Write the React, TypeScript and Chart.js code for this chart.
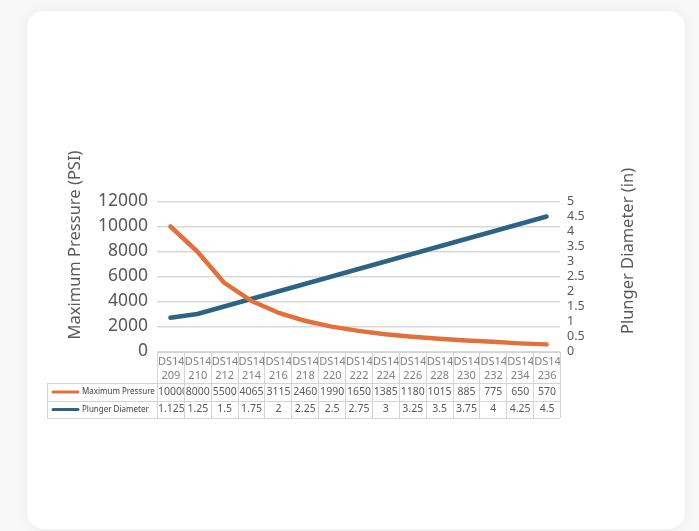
import React, { useEffect, useRef } from "react";
import { Chart, registerables } from "chart.js";

Chart.register(...registerables);

const categories = [
  "DS14 209", "DS14 210", "DS14 212", "DS14 214", "DS14 216", "DS14 218", "DS14 220", "DS14 222",
  "DS14 224", "DS14 226", "DS14 228", "DS14 230", "DS14 232", "DS14 234", "DS14 236",
];
const maxPressure = [10000, 8000, 5500, 4065, 3115, 2460, 1990, 1650, 1385, 1180, 1015, 885, 775, 650, 570];
const plungerDiameter = [1.125, 1.25, 1.5, 1.75, 2, 2.25, 2.5, 2.75, 3, 3.25, 3.5, 3.75, 4, 4.25, 4.5];
const seriesNames = ["Maximum Pressure", "Plunger Diameter"];
const seriesColors = ["#E2703B", "#2C6584"];
const leftAxisTitle = "Maximum Pressure (PSI)";
const rightAxisTitle = "Plunger Diameter (in)";

const FONT = "'Noto Sans', sans-serif";

const tablePlugin = {
  id: "dataTable",
  afterDraw(chart: any) {
    const ctx = chart.ctx as CanvasRenderingContext2D;
    const area = chart.chartArea;
    const xs = chart.scales.x;
    const n = categories.length;
    const left = area.left;
    const right = area.right;
    const w = (right - left) / n;
    const headerTop = 352;
    const row1Top = 383;
    const row2Top = 401;
    const bottom = 418;
    const legendLeft = 47;

    ctx.save();
    ctx.fillStyle = "#595959";
    ctx.textAlign = "center";
    ctx.textBaseline = "middle";
    ctx.font = `16.5px ${FONT}`;
    ctx.save();
    ctx.translate(75, 245);
    ctx.rotate(-Math.PI / 2);
    ctx.fillText(leftAxisTitle, 0, 0);
    ctx.restore();
    ctx.save();
    ctx.translate(628, 251);
    ctx.rotate(-Math.PI / 2);
    ctx.fillText(rightAxisTitle, 0, 0);
    ctx.restore();

    ctx.strokeStyle = "#d4d4d4";
    ctx.lineWidth = 1;
    const hl = (x1: number, x2: number, y: number) => {
      ctx.beginPath();
      ctx.moveTo(x1, Math.round(y) + 0.5);
      ctx.lineTo(x2, Math.round(y) + 0.5);
      ctx.stroke();
    };
    const vl = (x: number, y1: number, y2: number) => {
      ctx.beginPath();
      ctx.moveTo(Math.round(x) + 0.5, y1);
      ctx.lineTo(Math.round(x) + 0.5, y2);
      ctx.stroke();
    };
    hl(left, right, headerTop);
    hl(legendLeft, right, row1Top);
    hl(legendLeft, right, row2Top);
    hl(legendLeft, right, bottom);
    vl(legendLeft, row1Top, bottom);
    for (let i = 0; i <= n; i++) {
      vl(left + i * w, headerTop, bottom);
    }

    const drawCell = (text: string, cx: number, cy: number, color: string) => {
      const cl = cx - w / 2;
      ctx.save();
      ctx.beginPath();
      ctx.rect(cl + 1, cy - 10, w - 1, 20);
      ctx.clip();
      ctx.fillStyle = color;
      const tw = ctx.measureText(text).width;
      if (tw > w - 1) {
        ctx.textAlign = "left";
        ctx.fillText(text, cl + 1, cy);
      } else {
        ctx.textAlign = "center";
        ctx.fillText(text, cx + 0.5, cy);
      }
      ctx.restore();
    };

    ctx.textBaseline = "middle";
    for (let i = 0; i < n; i++) {
      const cx = xs.getPixelForValue(i);
      const parts = categories[i].split(" ");
      ctx.font = `11px ${FONT}`;
      drawCell(parts[0], cx, 362, "#808080");
      drawCell(parts[1], cx, 375.5, "#808080");
      ctx.font = `10.5px ${FONT}`;
      drawCell(String(maxPressure[i]), cx, 392, "#595959");
      drawCell(String(plungerDiameter[i]), cx, 409.5, "#595959");
    }

    const rowsY = [392, 409.5];
    for (let r = 0; r < 2; r++) {
      ctx.strokeStyle = seriesColors[r];
      ctx.lineWidth = 3;
      ctx.lineCap = "round";
      ctx.beginPath();
      ctx.moveTo(53, rowsY[r]);
      ctx.lineTo(78, rowsY[r]);
      ctx.stroke();
      ctx.fillStyle = "#404040";
      ctx.font = `8px ${FONT}`;
      ctx.textAlign = "left";
      ctx.fillText(seriesNames[r], 82, rowsY[r]);
    }
    ctx.restore();
  },
};

export default function App() {
  const ref = useRef<HTMLCanvasElement | null>(null);

  useEffect(() => {
    if (!ref.current) return;
    const chart = new Chart(ref.current, {
      type: "line",
      data: {
        labels: categories,
        datasets: [
          {
            label: seriesNames[0],
            data: maxPressure,
            yAxisID: "y",
            borderColor: seriesColors[0],
            backgroundColor: seriesColors[0],
            borderWidth: 4.5,
            pointRadius: 0,
            borderCapStyle: "round",
            borderJoinStyle: "round",
            tension: 0,
          },
          {
            label: seriesNames[1],
            data: plungerDiameter,
            yAxisID: "y1",
            borderColor: seriesColors[1],
            backgroundColor: seriesColors[1],
            borderWidth: 4.5,
            pointRadius: 0,
            borderCapStyle: "round",
            borderJoinStyle: "round",
            tension: 0,
          },
        ],
      },
      options: {
        responsive: false,
        animation: false,
        devicePixelRatio: 1,
        layout: { padding: { left: 0, right: 0, top: 201.5, bottom: 179.5 } },
        plugins: {
          legend: { display: false },
          tooltip: { enabled: false },
          title: { display: false },
        },
        scales: {
          x: {
            type: "category",
            offset: true,
            display: false,
          },
          y: {
            position: "left",
            min: 0,
            max: 12000,
            afterFit: (s: any) => {
              s.width = 157;
            },
            ticks: {
              stepSize: 2000,
              autoSkip: false,
              padding: 9,
              color: "#595959",
              font: { family: FONT, size: 17.5 },
              callback: (v: any) => String(v),
            },
            grid: { color: "#d9d9d9", lineWidth: 1.5, drawTicks: false },
            border: { display: false },
          },
          y1: {
            position: "right",
            min: 0,
            max: 5,
            afterFit: (s: any) => {
              s.width = 139;
            },
            ticks: {
              stepSize: 0.5,
              autoSkip: false,
              padding: 7,
              color: "#595959",
              font: { family: FONT, size: 12.5 },
              callback: (v: any) => String(v),
            },
            grid: { display: false, drawTicks: false },
            border: { display: false },
          },
        },
      },
      plugins: [tablePlugin],
    } as any);
    return () => chart.destroy();
  }, []);

  return (
    <div
      style={{
        position: "fixed",
        left: 0,
        top: 0,
        width: 699,
        height: 531,
        background: "#f8f8f8",
        overflow: "hidden",
      }}
    >
      <div
        style={{
          position: "absolute",
          left: 27,
          top: 11,
          width: 658,
          height: 518,
          background: "#ffffff",
          borderRadius: 16,
          boxShadow: "0 0 12px rgba(0,0,0,0.07)",
        }}
      />
      <canvas
        ref={ref}
        width={699}
        height={531}
        style={{ position: "absolute", left: 0, top: 0, width: 699, height: 531 }}
      />
    </div>
  );
}
